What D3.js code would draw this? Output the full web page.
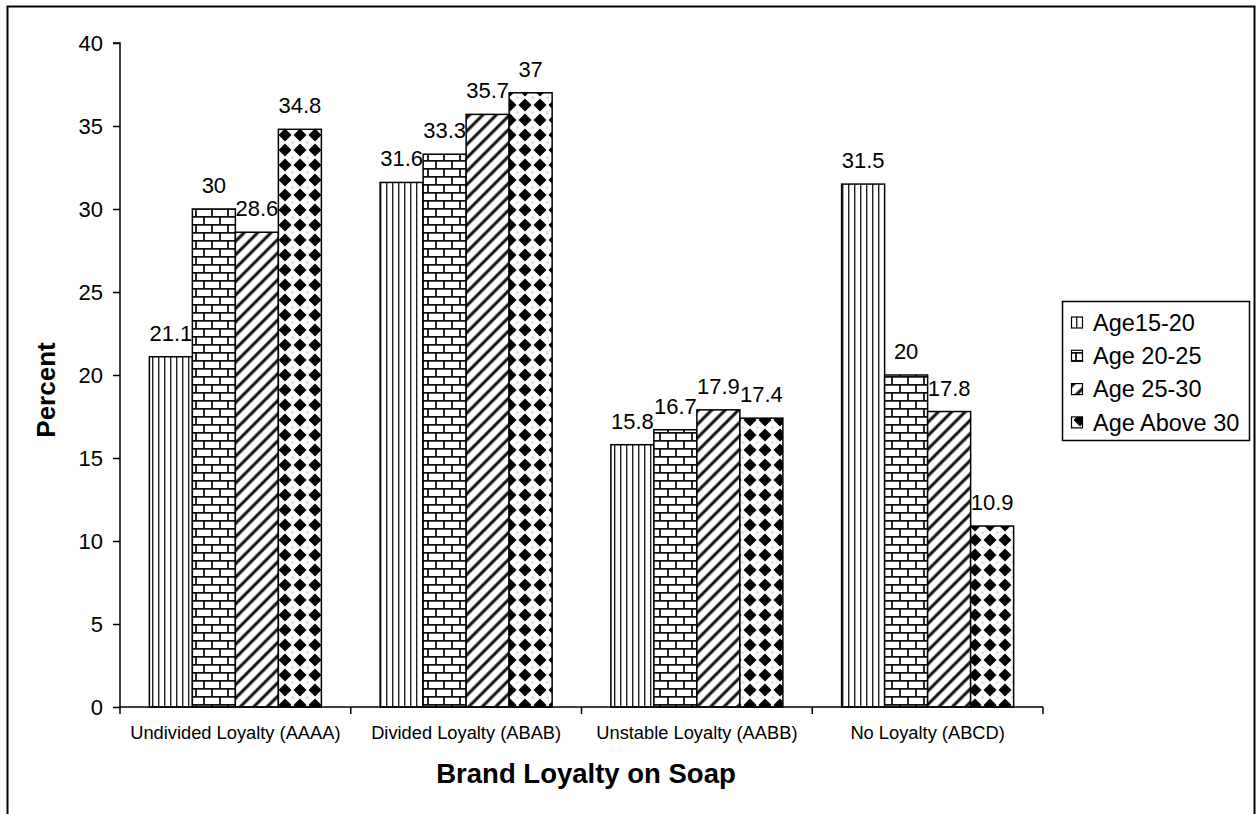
<!DOCTYPE html>
<html><head><meta charset="utf-8">
<script src="https://cdn.jsdelivr.net/npm/d3@7"></script>
<style>body{margin:0;background:#fff}svg{display:block;font-family:"Liberation Sans",Arial,sans-serif}</style>
</head><body><svg id="c" width="1258" height="814"></svg>
<script>
const categories = ["Undivided Loyalty (AAAA)", "Divided Loyalty (ABAB)", "Unstable Loyalty (AABB)", "No Loyalty (ABCD)"];
const seriesNames = ["Age15-20", "Age 20-25", "Age 25-30", "Age Above 30"];
const age15_20 = [21.1, 31.6, 15.8, 31.5];
const age20_25 = [30, 33.3, 16.7, 20];
const age25_30 = [28.6, 35.7, 17.9, 17.8];
const ageAbove30 = [34.8, 37, 17.4, 10.9];
const yTicks = [0, 5, 10, 15, 20, 25, 30, 35, 40];
const seriesValues = [age15_20, age20_25, age25_30, ageAbove30];

(function(){
const svg = d3.select("#c");
const defs = svg.append("defs");
// pattern 0: vertical lines
let p = defs.append("pattern").attr("id","p0").attr("patternUnits","userSpaceOnUse").attr("width",6).attr("height",6);
p.append("rect").attr("width",6).attr("height",6).attr("fill","#fff");
p.append("rect").attr("x",2).attr("width",1.4).attr("height",6).attr("fill","#222");
// pattern 1: brick
p = defs.append("pattern").attr("id","p1").attr("patternUnits","userSpaceOnUse").attr("width",16).attr("height",16);
p.append("rect").attr("width",16).attr("height",16).attr("fill","#fff");
p.append("path").attr("d","M0,0.8H16M0,8.8H16M4,0V8M12,8V16").attr("stroke","#111").attr("stroke-width",1.8).attr("fill","none");
// pattern 2: diagonal
p = defs.append("pattern").attr("id","p2").attr("patternUnits","userSpaceOnUse").attr("width",9.5).attr("height",9.5).attr("patternTransform","rotate(-45)");
p.append("rect").attr("width",9.5).attr("height",9.5).attr("fill","#fff");
p.append("rect").attr("y",3.2).attr("width",9.5).attr("height",3).attr("fill","#111");
// pattern 3: diamonds
p = defs.append("pattern").attr("id","p3").attr("patternUnits","userSpaceOnUse").attr("width",15).attr("height",15);
p.append("rect").attr("width",15).attr("height",15).attr("fill","#fff");
p.append("path").attr("d","M0,-6.5L6.5,0L0,6.5L-6.5,0Z M15,-6.5L21.5,0L15,6.5L8.5,0Z M0,8.5L6.5,15L0,21.5L-6.5,15Z M15,8.5L21.5,15L15,21.5L8.5,15Z").attr("fill","#000");
p.append("circle").attr("cx",7.5).attr("cy",7.5).attr("r",1.5).attr("fill","#ddd");

// outer frame
svg.append("rect").attr("x",7.5).attr("y",6.5).attr("width",1247).attr("height",830).attr("fill","none").attr("stroke","#000").attr("stroke-width",2);

const L = 120, R = 1043, T = 43, B = 707;
const y = d3.scaleLinear().domain([0,40]).range([B, T]);
const x0 = d3.scaleBand().domain(categories).range([L, R]).padding(0);
const x1 = d3.scaleBand().domain(d3.range(4)).range([0, x0.bandwidth()]).paddingInner(0).paddingOuter(0.683);

const g = svg.append("g");
categories.forEach((c, ci) => {
  seriesValues.forEach((vals, si) => {
    const v = vals[ci];
    const bx = x0(c) + x1(si);
    g.append("rect").attr("x", bx).attr("y", y(v)).attr("width", x1.bandwidth()).attr("height", y(0)-y(v))
      .attr("fill", `url(#p${si})`).attr("stroke","#000").attr("stroke-width",1.5);
  });
});
categories.forEach((c, ci) => {
  seriesValues.forEach((vals, si) => {
    const v = vals[ci];
    const bx = x0(c) + x1(si);
    g.append("text").attr("x", bx + x1.bandwidth()/2).attr("y", y(v) - 16).attr("text-anchor","middle")
      .attr("font-size",22).attr("fill","#000").text(v);
  });
});

// y axis
const yAxis = d3.axisLeft(y).tickValues(yTicks).tickSize(7).tickPadding(10);
const ya = svg.append("g").attr("transform",`translate(${L},0)`).call(yAxis);
ya.select(".domain").attr("stroke","#000").attr("stroke-width",1.5).attr("d",`M-7,${T}H0V${B}`);
ya.selectAll(".tick line").attr("stroke","#000").attr("stroke-width",1.5);
ya.selectAll(".tick text").attr("font-size",22).attr("fill","#000").attr("font-family","Liberation Sans, Arial, sans-serif");

// x axis
const xa = svg.append("g").attr("transform",`translate(0,${B})`);
xa.append("line").attr("x1",L).attr("x2",R).attr("stroke","#000").attr("stroke-width",1.5);
categories.concat([null]).forEach((c,i)=>{
  const xx = c ? x0(c) : R;
  xa.append("line").attr("x1",xx).attr("x2",xx).attr("y1",0).attr("y2",7).attr("stroke","#000").attr("stroke-width",1.5);
});
categories.forEach(c=>{
  xa.append("text").attr("x", x0(c)+x0.bandwidth()/2).attr("y",31.5).attr("text-anchor","middle").attr("font-size",18.3).text(c);
});

// titles
svg.append("text").attr("transform",`translate(55,390) rotate(-90)`).attr("text-anchor","middle")
  .attr("font-size",26).attr("font-weight","bold").text("Percent");
svg.append("text").attr("x",586).attr("y",783).attr("text-anchor","middle")
  .attr("font-size",27.5).attr("font-weight","bold").text("Brand Loyalty on Soap");

// legend
const lg = svg.append("g");
lg.append("rect").attr("x",1062.5).attr("y",301.5).attr("width",187).attr("height",139).attr("fill","#fff").attr("stroke","#000").attr("stroke-width",1.5);
seriesNames.forEach((n,i)=>{
  const ly = 322.5 + i*33.3;
  lg.append("rect").attr("x",1071.5).attr("y",ly-5.5).attr("width",11).attr("height",11).attr("fill",`url(#p${i})`).attr("stroke","#000").attr("stroke-width",1.2);
  lg.append("text").attr("x",1093).attr("y",ly+8.3).attr("font-size",23.5).text(n);
});
})();
</script></body></html>
